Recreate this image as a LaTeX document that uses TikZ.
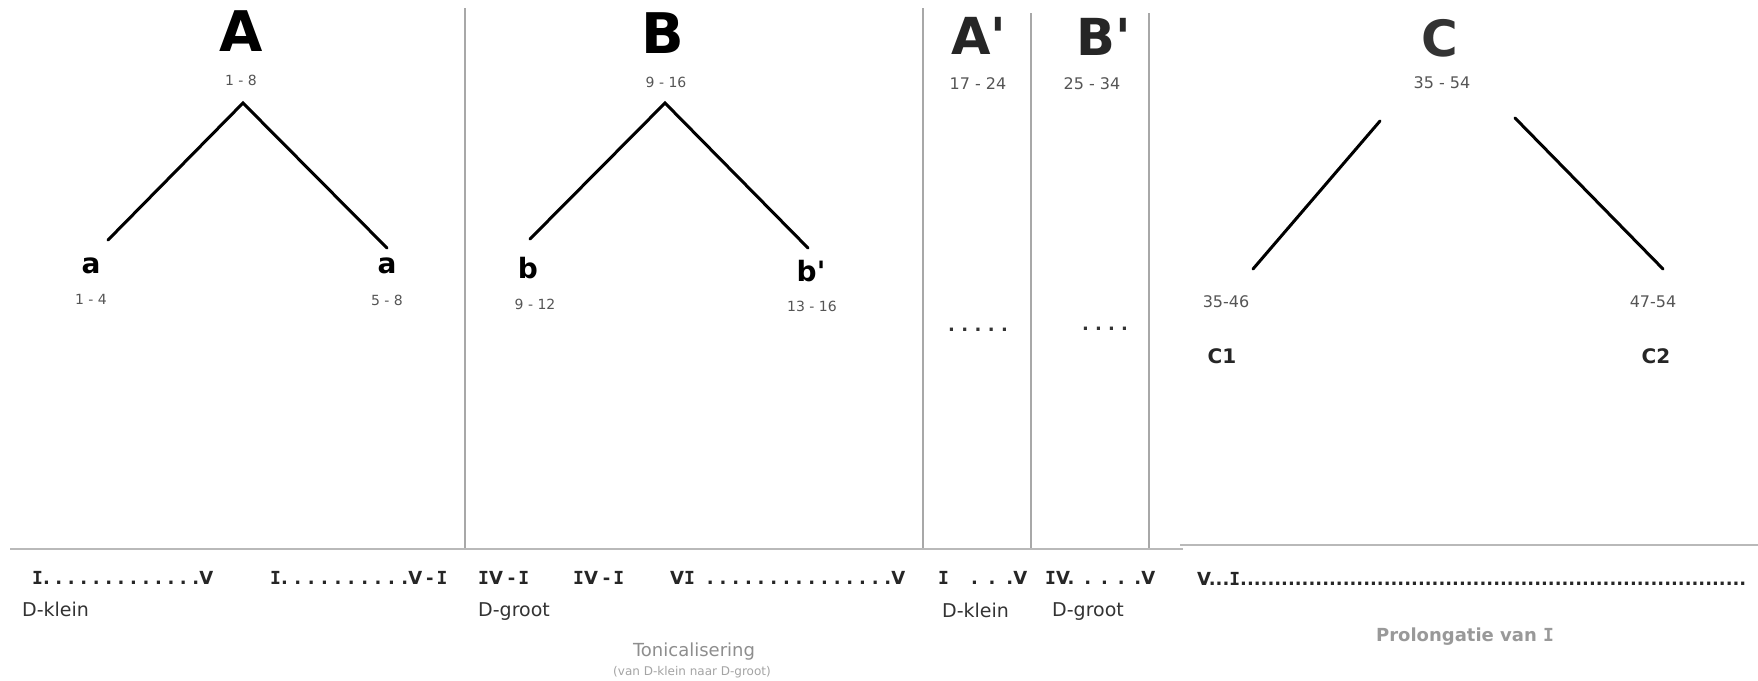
\documentclass[tikz,border=0pt]{standalone}
\usepackage{fontspec}
\setmainfont{DejaVu Sans}[Ligatures=TeXOff]
\newfontfamily\slabfont{DejaVu Sans Mono}
\usepackage{xcolor}
\usepackage{tikz}

\definecolor{rangegray}{HTML}{555555}
\definecolor{notegray}{HTML}{8E8E8E}
\definecolor{linegray}{HTML}{A8A8A8}

\newcommand{\RI}{{\slabfont I}}
\newcommand{\dotrun}[1]{\foreach \k in {1,...,#1}{.}}
\newcommand{\spacedots}[1]{.\foreach \k in {2,...,#1}{\hfill.}}

\begin{document}
\begin{tikzpicture}[x=1pt, y=-1pt]
    % Define styles
    \tikzstyle{secname} = [inner sep=0pt, font=\bfseries\fontsize{56}{60}\selectfont]
    \tikzstyle{subsec} = [inner sep=0pt, text=black!85, font=\bfseries\fontsize{51}{55}\selectfont]
    \tikzstyle{bars} = [inner sep=0pt, text=rangegray, font=\fontsize{14}{16}\selectfont]
    \tikzstyle{barsL} = [inner sep=0pt, text=rangegray, font=\fontsize{16}{18}\selectfont]
    \tikzstyle{leafname} = [inner sep=0pt, font=\bfseries\fontsize{28}{30}\selectfont]
    \tikzstyle{chordrow} = [inner sep=0pt, anchor=west, text=black!85, font=\bfseries\fontsize{18}{20}\selectfont]
    \tikzstyle{keylabel} = [inner sep=0pt, anchor=west, text=black!80, font=\fontsize{19}{21}\selectfont]
    \tikzstyle{notetext} = [inner sep=0pt, text=notegray]
    \tikzstyle{gapdots} = [inner sep=0pt, text=black!80, font=\bfseries\fontsize{18}{20}\selectfont]
    \tikzstyle{branchline} = [line width=3pt, line cap=round]
    \tikzstyle{divline} = [line width=1.6pt, linegray]

    \path[use as bounding box, fill=white] (0,0) rectangle (1758,680);

    % Section A
    \node [secname] (A) at (241,31) {A};
    \node [bars] (rA) at (241,80) {1 - 8};
    \node [leafname] (a1) at (91,266) {a};
    \node [bars] (ra1) at (91,299) {1 - 4};
    \node [leafname] (a2) at (387,266) {a};
    \node [bars] (ra2) at (387,300) {5 - 8};
    \coordinate (Atop) at (243,103);
    \coordinate (Aleft) at (108,240);
    \coordinate (Aright) at (387,248);
    \draw [branchline] (Aleft) -- (Atop) -- (Aright);

    % Section B
    \node [secname] (B) at (663,33) {B};
    \node [bars] (rB) at (666,82) {9 - 16};
    \node [leafname] (b1) at (528,268) {b};
    \node [bars] (rb1) at (535,304) {9 - 12};
    \node [leafname] (b2) at (811,271) {b'};
    \node [bars] (rb2) at (812,306) {13 - 16};
    \coordinate (Btop) at (665,103);
    \coordinate (Bleft) at (530,239);
    \coordinate (Bright) at (808,248);
    \draw [branchline] (Bleft) -- (Btop) -- (Bright);

    % Sections A' and B'
    \node [subsec] (Ap) at (979,36) {A'};
    \node [barsL] (rAp) at (978,84) {17 - 24};
    \node [gapdots] (dAp) at (978,330) {\makebox[60pt][s]{\spacedots{5}}};
    \node [subsec] (Bp) at (1104,37) {B'};
    \node [barsL] (rBp) at (1092,84) {25 - 34};
    \node [gapdots] (dBp) at (1105,329) {\makebox[46pt][s]{\spacedots{4}}};

    % Section C
    \node [subsec, text=black!80, font=\bfseries\fontsize{50}{54}\selectfont] (C) at (1440,38) {C};
    \node [barsL] (rC) at (1442,83) {35 - 54};
    \node [barsL] (rc1) at (1226,302) {35-46};
    \node [leafname, text=black!85, font=\bfseries\fontsize{20}{22}\selectfont] (c1) at (1222,356) {C1};
    \node [barsL] (rc2) at (1653,302) {47-54};
    \node [leafname, text=black!85, font=\bfseries\fontsize{20}{22}\selectfont] (c2) at (1656,356) {C2};
    \coordinate (Cltop) at (1380,121);
    \coordinate (Cleft) at (1253,269);
    \coordinate (Crtop) at (1515,118);
    \coordinate (Cright) at (1663,269);
    \draw [branchline] (Cltop) -- (Cleft);
    \draw [branchline] (Crtop) -- (Cright);

    % Dividers
    \draw [divline] (465,8) -- (465,549);
    \draw [divline] (923,8) -- (923,549);
    \draw [divline] (1031,13) -- (1031,549);
    \draw [divline] (1149,13) -- (1149,549);
    \draw [divline, linegray!80] (10,549) -- (1183,549);
    \draw [divline, linegray!80] (1180,545) -- (1758,545);

    % Harmonic rows
    \node [chordrow] (h1) at (32,578) {\makebox[181pt][s]{\RI\spacedots{13}V}};
    \node [chordrow] (h2) at (270,578) {\makebox[152pt][s]{\RI\spacedots{10}V}\hspace{4pt}-\hspace{3pt}\RI};
    \node [chordrow] (h3) at (478,578) {\RI V\hspace{5pt}-\hspace{3pt}\RI};
    \node [chordrow] (h4) at (573,578) {\RI V\hspace{5pt}-\hspace{3pt}\RI};
    \node [chordrow] (h5) at (670,578) {\makebox[235pt][s]{V\RI\hspace{12pt}\spacedots{15}V}};
    \node [chordrow] (h6) at (938,578) {\makebox[89pt][s]{\RI\hspace{22pt}\spacedots{3}V}};
    \node [chordrow] (h7) at (1045,578) {\makebox[110pt][s]{\RI V\spacedots{5}V}};
    \node [chordrow] (h8) at (1197,579) {V...\RI\dotrun{74}};

    \node [keylabel] (k1) at (22,609) {D-klein};
    \node [keylabel] (k2) at (478,612) {D-groot};
    \node [keylabel] (k3) at (942,610) {D-klein};
    \node [keylabel] (k4) at (1052,612) {D-groot};

    % Notes
    \node [notetext, font=\fontsize{18}{20}\selectfont] (ton) at (694,652) {Tonicalisering};
    \node [notetext, text=notegray!80, font=\fontsize{12}{13}\selectfont] (tonsub) at (692,672) {(van D-klein naar D-groot)};
    \node [notetext, text=notegray!90, font=\bfseries\fontsize{18}{20}\selectfont] (prol) at (1465,637) {Prolongatie van \RI};
\end{tikzpicture}
\end{document}
